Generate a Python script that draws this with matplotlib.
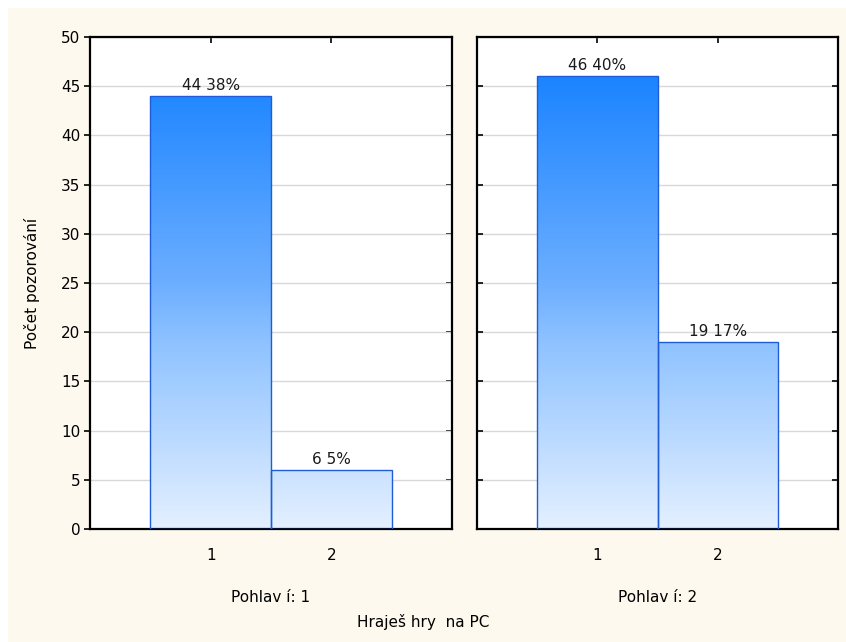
import numpy as np
import matplotlib.pyplot as plt
from matplotlib.colors import LinearSegmentedColormap

plt.rcParams['font.family'] = ['DejaVu Sans']

# data
categories = ['1', '2']
panel_titles = ['Pohlav í: 1', 'Pohlav í: 2']
counts = [[44, 6], [46, 19]]
percents = [['38%', '5%'], ['40%', '17%']]

bg = '#FEF9EE'
cmap = LinearSegmentedColormap.from_list(
    'grad', [(0, '#E4F0FF'), (0.38, '#8EC2FF'), (0.5, '#6CAEFF'), (0.92, '#1B84FF'), (1, '#1480FF')])

fig = plt.figure(figsize=(8.46, 6.42), dpi=100, facecolor='white')
fig.patches.append(plt.Rectangle((8 / 846, 0), 1, 1 - 8 / 642, transform=fig.transFigure,
                                 facecolor=bg, edgecolor='none', zorder=-10))

H, W = 642, 846
axes = [fig.add_axes([90 / W, 1 - 529 / H, 362 / W, 492 / H]),
        fig.add_axes([477 / W, 1 - 529 / H, 361 / W, 492 / H])]

grad = np.linspace(0, 1, 256).reshape(-1, 1)
fs = 11

for i, ax in enumerate(axes):
    ax.set_yticks(range(0, 51, 5))
    ax.set_xticks([1, 2])
    ax.set_xticklabels(categories)
    ax.grid(axis='y', color='#D8D8D8', linewidth=1)
    ax.set_axisbelow(True)
    for s in ax.spines.values():
        s.set_linewidth(1.6)
        s.set_color('black')
    ax.tick_params(axis='x', direction='in', top=True, length=4, width=1.2, pad=14, labelsize=fs)
    if i == 0:
        ax.tick_params(axis='y', direction='out', length=4, width=1.2, labelsize=fs, pad=3)
        ax.set_ylabel('Počet pozorování', fontsize=fs, labelpad=15)
        ax2 = ax.secondary_yaxis('right')
        ax2.set_yticks(range(0, 51, 5))
        ax2.tick_params(direction='in', length=4, width=1.2, labelright=False)
        ax2.spines['right'].set_visible(False)
    else:
        ax.tick_params(axis='y', direction='in', left=True, right=True, labelleft=False, length=4, width=1.2)

    bars = ax.bar([1, 2], counts[i], width=1.0, facecolor='none', edgecolor='#1F5CD6', linewidth=1.0, zorder=3)
    for b, c, p in zip(bars, counts[i], percents[i]):
        x0 = b.get_x()
        im = ax.imshow(grad, cmap=cmap, origin='lower', aspect='auto',
                       extent=[x0, x0 + b.get_width(), 0, 50], zorder=2)
        im.set_clip_path(b)
        ax.text(b.get_x() + b.get_width() / 2, c + 0.3, f'{c} {p}', ha='center', va='bottom', fontsize=fs,
                color='#1A1A1A')
    ax.set_xlim(0, 3)
    ax.set_ylim(0, 50)
    ax.text(0.5, -0.14, panel_titles[i], transform=ax.transAxes, ha='center', va='center', fontsize=fs)

fig.text(423 / W, 1 - 622 / H, 'Hraješ hry  na PC', ha='center', va='center', fontsize=fs)

fig.savefig('out.png', dpi=100, facecolor=fig.get_facecolor())
